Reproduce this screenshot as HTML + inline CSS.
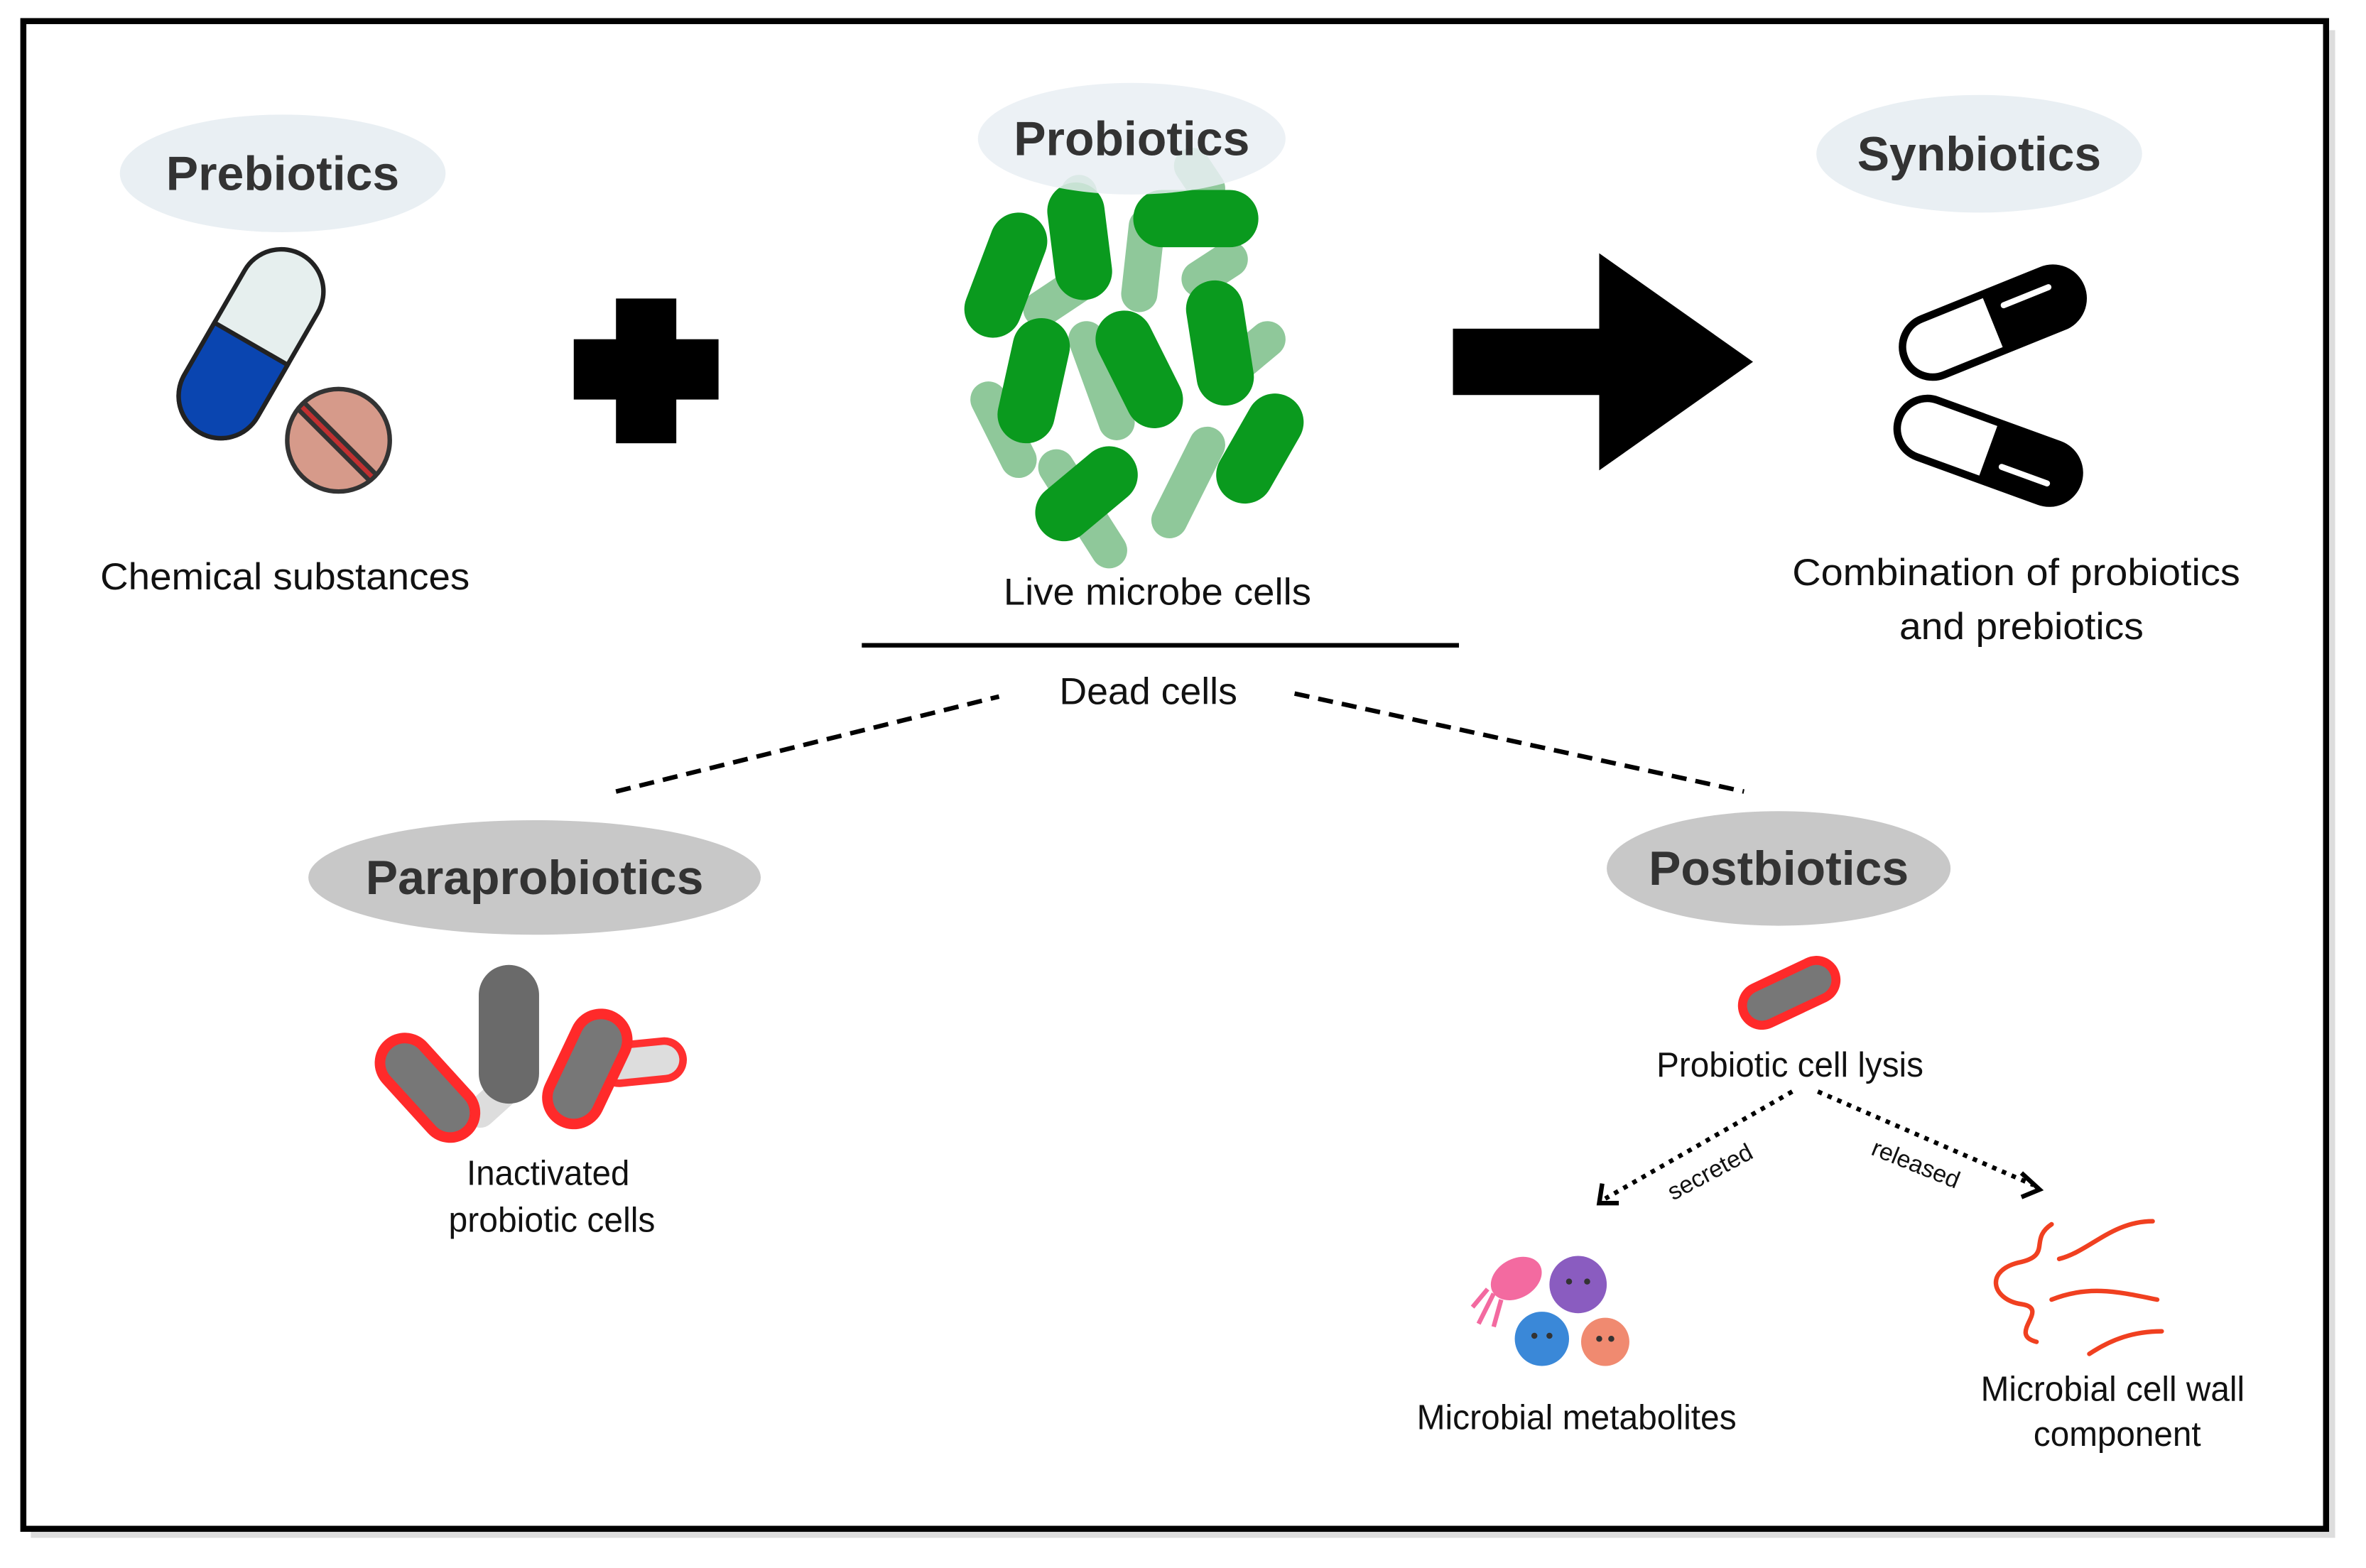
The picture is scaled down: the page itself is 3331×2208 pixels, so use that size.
<!DOCTYPE html>
<html><head><meta charset="utf-8"><style>
html,body{margin:0;padding:0;background:#fff}
svg{display:block}
text{font-family:"Liberation Sans",sans-serif}
</style></head><body>
<svg width="3331" height="2208" viewBox="0 0 1568 1040" xmlns="http://www.w3.org/2000/svg">
<rect x="0" y="0" width="1568" height="1040" fill="#fff"/>
<rect x="20" y="20" width="1528" height="1000" fill="#bbb" opacity="0.5"/>
<rect x="15" y="14" width="1527" height="1000" fill="#fff" stroke="#000" stroke-width="4"/>

<ellipse cx="187" cy="115" rx="108" ry="39" fill="#e9eff3"/>
<text x="187" y="126" font-size="32" font-weight="bold" fill="#333" text-anchor="middle">Prebiotics</text>
<ellipse cx="1312" cy="102" rx="108" ry="39" fill="#e9eff3"/>
<text x="1312" y="113" font-size="32" font-weight="bold" fill="#333" text-anchor="middle">Synbiotics</text>
<ellipse cx="354" cy="582" rx="150" ry="38" fill="#c8c8c8"/>
<text x="354" y="593" font-size="32" font-weight="bold" fill="#333" text-anchor="middle">Paraprobiotics</text>
<ellipse cx="1179" cy="576" rx="114" ry="38" fill="#c8c8c8"/>
<text x="1179" y="587" font-size="32" font-weight="bold" fill="#333" text-anchor="middle">Postbiotics</text>

<g transform="rotate(30 166 228)">
<rect x="138" y="160" width="56" height="136" rx="28" fill="#e6efee" stroke="#222" stroke-width="3"/>
<path d="M138 228 H194 V268 A28 28 0 0 1 138 268 Z" fill="#0a45b0" stroke="#222" stroke-width="3"/>
</g>
<circle cx="224" cy="292" r="34" fill="#d69a8a" stroke="#333" stroke-width="3"/>
<line x1="200" y1="270" x2="246" y2="316" stroke="#333" stroke-width="9"/>
<line x1="200" y1="270" x2="246" y2="316" stroke="#c03030" stroke-width="3"/>
<text x="66" y="391" font-size="25" fill="#111" textLength="245" lengthAdjust="spacingAndGlyphs">Chemical substances</text>

<rect x="380" y="225" width="96" height="40" fill="#000"/>
<rect x="408" y="198" width="40" height="96" fill="#000"/>

<g stroke-linecap="round" fill="none">
<g stroke="#8fc89a" stroke-width="24">
<line x1="715" y1="128" x2="720" y2="180"/>
<line x1="790" y1="110" x2="800" y2="125"/>
<line x1="760" y1="150" x2="755" y2="195"/>
<line x1="795" y1="185" x2="815" y2="172"/>
<line x1="690" y1="205" x2="720" y2="185"/>
<line x1="720" y1="225" x2="740" y2="280"/>
<line x1="810" y1="250" x2="840" y2="225"/>
<line x1="655" y1="265" x2="675" y2="305"/>
<line x1="700" y1="310" x2="735" y2="365"/>
<line x1="775" y1="345" x2="800" y2="295"/>
</g>
<g stroke="#0a9a1e" stroke-width="38">
<line x1="675" y1="160" x2="658" y2="205"/>
<line x1="713" y1="140" x2="718" y2="180"/>
<line x1="770" y1="145" x2="815" y2="145"/>
<line x1="690" y1="230" x2="680" y2="275"/>
<line x1="745" y1="225" x2="765" y2="265"/>
<line x1="805" y1="205" x2="812" y2="250"/>
<line x1="845" y1="280" x2="825" y2="315"/>
<line x1="735" y1="315" x2="705" y2="340"/>
</g>
</g>
<ellipse cx="750" cy="92" rx="102" ry="37" fill="#e9eff3" opacity="0.85"/>
<text x="750" y="103" font-size="32" font-weight="bold" fill="#333" text-anchor="middle">Probiotics</text>
<text x="665" y="401" font-size="25" fill="#111" textLength="204" lengthAdjust="spacingAndGlyphs">Live microbe cells</text>
<line x1="571" y1="428" x2="967" y2="428" stroke="#000" stroke-width="3"/>
<text x="702" y="467" font-size="25" fill="#111" textLength="118" lengthAdjust="spacingAndGlyphs">Dead cells</text>
<line x1="408" y1="525" x2="662" y2="462" stroke="#000" stroke-width="3" stroke-dasharray="10,6"/>
<line x1="858" y1="460" x2="1156" y2="525" stroke="#000" stroke-width="3" stroke-dasharray="10,6"/>

<rect x="963" y="218" width="100" height="44" fill="#000"/>
<polygon points="1060,168 1162,240 1060,312" fill="#000"/>

<g transform="rotate(-22 1321 214)">
<rect x="1258" y="194" width="126" height="40" rx="20" fill="#fff" stroke="#000" stroke-width="5"/>
<path d="M1321 194 H1364 A20 20 0 0 1 1364 234 H1321 Z" fill="#000"/>
<line x1="1332" y1="206" x2="1364" y2="206" stroke="#fff" stroke-width="4" stroke-linecap="round"/>
</g>
<g transform="rotate(20 1318 299)">
<rect x="1255" y="279" width="126" height="40" rx="20" fill="#fff" stroke="#000" stroke-width="5"/>
<path d="M1318 279 H1361 A20 20 0 0 1 1361 319 H1318 Z" fill="#000"/>
<line x1="1330" y1="306" x2="1362" y2="306" stroke="#fff" stroke-width="4" stroke-linecap="round"/>
</g>
<text x="1188" y="388" font-size="25" fill="#111" textLength="297" lengthAdjust="spacingAndGlyphs">Combination of probiotics</text>
<text x="1259" y="424" font-size="25" fill="#111" textLength="162" lengthAdjust="spacingAndGlyphs">and prebiotics</text>

<g stroke-linecap="round" fill="none">
<line x1="318" y1="738" x2="338" y2="720" stroke="#ddd" stroke-width="20"/>
<line x1="410" y1="706" x2="440" y2="703" stroke="#ff3030" stroke-width="30"/>
<line x1="410" y1="706" x2="440" y2="703" stroke="#ddd" stroke-width="20"/>
<line x1="268" y1="705" x2="298" y2="738" stroke="#ff2a2a" stroke-width="40"/>
<line x1="268" y1="705" x2="298" y2="738" stroke="#777" stroke-width="26"/>
<line x1="337" y1="660" x2="337" y2="712" stroke="#6a6a6a" stroke-width="40"/>
<line x1="398" y1="690" x2="380" y2="728" stroke="#ff2a2a" stroke-width="42"/>
<line x1="398" y1="690" x2="380" y2="728" stroke="#777" stroke-width="28"/>
</g>
<text x="309" y="786" font-size="23" fill="#111" textLength="108" lengthAdjust="spacingAndGlyphs">Inactivated</text>
<text x="297" y="817" font-size="23" fill="#111" textLength="137" lengthAdjust="spacingAndGlyphs">probiotic cells</text>

<line x1="1168" y1="667" x2="1204" y2="650" stroke="#ff2a2a" stroke-width="32" stroke-linecap="round"/>
<line x1="1168" y1="667" x2="1204" y2="650" stroke="#777" stroke-width="20" stroke-linecap="round"/>
<text x="1098" y="714" font-size="23" fill="#111" textLength="177" lengthAdjust="spacingAndGlyphs">Probiotic cell lysis</text>
<line x1="1188" y1="724" x2="1064" y2="795" stroke="#000" stroke-width="3" stroke-dasharray="3,4"/>
<polyline points="1062,785 1060,798 1073,798" fill="none" stroke="#000" stroke-width="3"/>
<line x1="1205" y1="724" x2="1348" y2="786" stroke="#000" stroke-width="3" stroke-dasharray="3,4"/>
<polyline points="1340,778 1352,789 1340,794" fill="none" stroke="#000" stroke-width="3"/>
<text transform="translate(1136 782) rotate(-28)" font-size="16" fill="#111" text-anchor="middle">secreted</text>
<text transform="translate(1268 777) rotate(22)" font-size="16" fill="#111" text-anchor="middle">released</text>

<ellipse cx="1005" cy="848" rx="18" ry="13" fill="#f36aa0" transform="rotate(-30 1005 848)"/>
<path d="M990 858 l-10 20 M995 862 l-5 18 M986 855 l-10 12" stroke="#f36aa0" stroke-width="3"/>
<circle cx="1046" cy="852" r="19" fill="#8a5cc0"/>
<circle cx="1022" cy="888" r="18" fill="#3a88d8"/>
<circle cx="1064" cy="890" r="16" fill="#f08a70"/>
<g fill="#333"><circle cx="1040" cy="850" r="2"/><circle cx="1052" cy="850" r="2"/><circle cx="1017" cy="886" r="2"/><circle cx="1027" cy="886" r="2"/><circle cx="1060" cy="888" r="2"/><circle cx="1068" cy="888" r="2"/></g>
<text x="939" y="948" font-size="23" fill="#111" textLength="212" lengthAdjust="spacingAndGlyphs">Microbial metabolites</text>

<g fill="none" stroke="#f04020" stroke-width="3" stroke-linecap="round">
<path d="M1360 812 c-15 10 0 20 -20 25 c-25 5 -20 25 0 28 c20 3 -10 20 10 25"/>
<path d="M1365 835 c20 -5 35 -25 62 -25"/>
<path d="M1360 862 c25 -10 45 -5 70 0"/>
<path d="M1385 898 c15 -10 30 -15 48 -15"/>
</g>
<text x="1313" y="929" font-size="23" fill="#111" textLength="175" lengthAdjust="spacingAndGlyphs">Microbial cell wall</text>
<text x="1348" y="959" font-size="23" fill="#111" textLength="111" lengthAdjust="spacingAndGlyphs">component</text>
</svg>
</body></html>
